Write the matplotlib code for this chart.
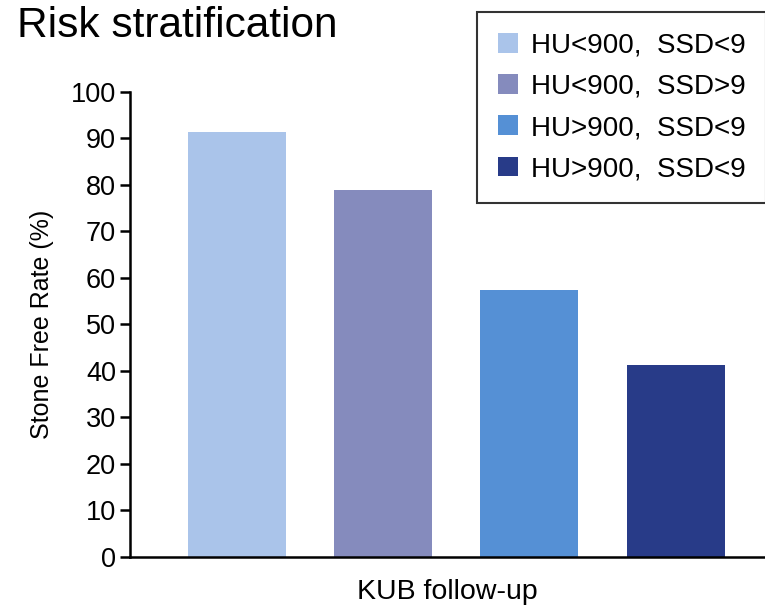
import matplotlib
matplotlib.use("Agg")
import matplotlib.pyplot as plt

plt.rcParams['font.family'] = ['Liberation Sans', 'DejaVu Sans']

# dados
groups = ['HU<900,  SSD<9', 'HU<900,  SSD>9', 'HU>900,  SSD<9', 'HU>900,  SSD<9']
values = [91.3, 78.9, 57.4, 41.3]
colors = ['#aac4ea', '#858bbd', '#5590d5', '#283b88']
yticks = [0, 10, 20, 30, 40, 50, 60, 70, 80, 90, 100]

fig = plt.figure(figsize=(7.65, 6.12), dpi=100)
ax = fig.add_axes([0.170, 0.090, 0.83, 0.760])

bars = ax.bar(range(len(values)), values, width=0.67, color=colors, label=groups)

ax.set_xlim(-0.73, 3.61)
ax.set_ylim(0, 100)
ax.set_yticks(yticks)
ax.set_xticks([])
ax.tick_params(axis='y', labelsize=19.5, length=7, width=1.8, pad=3)
for s in ['top', 'right']:
    ax.spines[s].set_visible(False)
ax.spines['left'].set_linewidth(1.8)
ax.spines['bottom'].set_linewidth(1.8)

ax.set_ylabel('Stone Free Rate (%)', fontsize=18, labelpad=12)
ax.set_xlabel('KUB follow-up', fontsize=20.5, labelpad=16)
fig.text(0.022, 1 - 37 / 612, 'Risk stratification', fontsize=30.5,
         va='baseline', ha='left')

leg = fig.legend(handles=bars, labels=groups, loc='upper left',
                 bbox_to_anchor=(0.6235, 0.981), fontsize=20, frameon=True,
                 fancybox=False, edgecolor='black', handlelength=0.72,
                 handleheight=0.72, handletextpad=0.47, labelspacing=0.55,
                 borderpad=0.75, borderaxespad=0)
leg.get_frame().set_linewidth(1.5)

plt.savefig('out.png', dpi=100)
